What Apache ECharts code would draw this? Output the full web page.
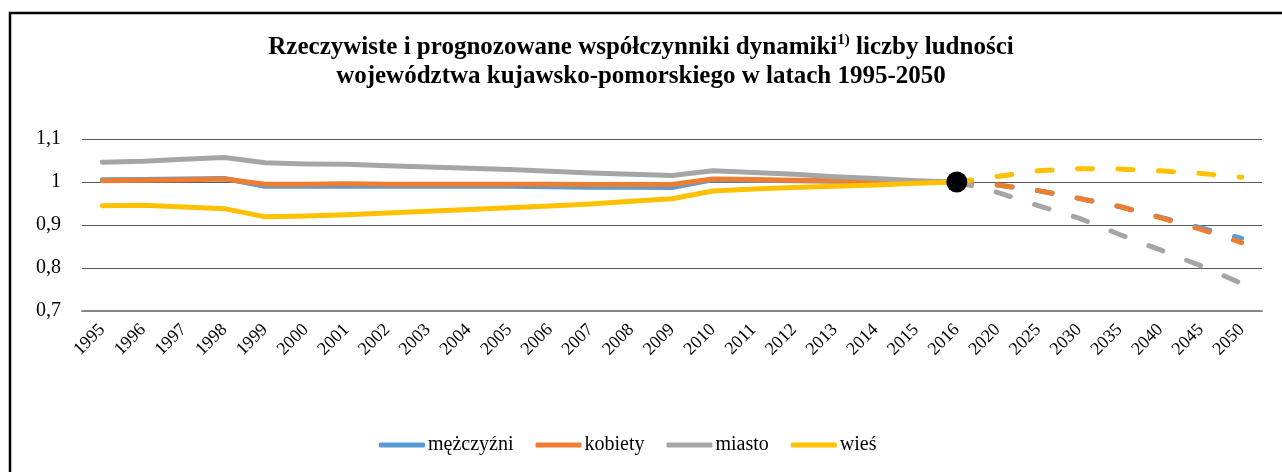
<!DOCTYPE html>
<html>
<head>
<meta charset="utf-8">
<script src="https://cdn.jsdelivr.net/npm/echarts@6/dist/echarts.min.js"></script>
<style>
  html, body { margin: 0; padding: 0; background: #fff; }
  #main { width: 1282px; height: 472px; }
</style>
</head>
<body>
<div id="main"></div>
<script>
// years with real data, then forecast years
var yearsReal = ['1995','1996','1997','1998','1999','2000','2001','2002','2003','2004','2005',
  '2006','2007','2008','2009','2010','2011','2012','2013','2014','2015','2016'];
var yearsForecast = ['2020','2025','2030','2035','2040','2045','2050'];

var names = ['mężczyźni', 'kobiety', 'miasto', 'wieś'];
var colors = ['#5B9BD5', '#ED7D31', '#A5A5A5', '#FFC000'];

// real values 1995-2016
var menReal = [1.005, 1.006, 1.007, 1.008, 0.990, 0.990, 0.990, 0.990, 0.990, 0.990, 0.990,
  0.989, 0.988, 0.988, 0.987, 1.005, 1.004, 1.003, 1.002, 1.001, 1.001, 1.000];
var womenReal = [1.003, 1.004, 1.005, 1.007, 0.995, 0.995, 0.996, 0.995, 0.995, 0.995, 0.995,
  0.995, 0.994, 0.994, 0.994, 1.007, 1.006, 1.004, 1.003, 1.002, 1.001, 1.000];
var cityReal = [1.046, 1.048, 1.053, 1.057, 1.045, 1.042, 1.041, 1.038, 1.035, 1.032, 1.029,
  1.025, 1.021, 1.018, 1.015, 1.026, 1.022, 1.018, 1.012, 1.008, 1.003, 1.000];
var villageReal = [0.945, 0.946, 0.942, 0.938, 0.919, 0.921, 0.924, 0.928, 0.932, 0.936, 0.940,
  0.944, 0.949, 0.955, 0.961, 0.979, 0.984, 0.987, 0.990, 0.993, 0.997, 1.000];

// forecast values 2020-2050
var menForecast = [0.993, 0.980, 0.962, 0.943, 0.918, 0.893, 0.869];
var womenForecast = [0.993, 0.980, 0.962, 0.943, 0.917, 0.890, 0.859];
var cityForecast = [0.976, 0.945, 0.916, 0.878, 0.842, 0.805, 0.764];
var villageForecast = [1.013, 1.026, 1.031, 1.030, 1.026, 1.020, 1.011];

var realSets = [menReal, womenReal, cityReal, villageReal];
var forecastSets = [menForecast, womenForecast, cityForecast, villageForecast];

var categories = yearsReal.concat(yearsForecast);
var serif = '"Liberation Serif", "Times New Roman", serif';

var chart = echarts.init(document.getElementById('main'));

var series = [];
// solid lines for real data
realSets.forEach(function (vals, i) {
  series.push({
    name: names[i],
    type: 'line',
    symbol: 'none',
    data: vals.concat(yearsForecast.map(function () { return null; })),
    lineStyle: { color: colors[i], width: 5, cap: 'round', join: 'round' },
    itemStyle: { color: colors[i] }
  });
});
// dashed lines for forecast, starting at 2016
forecastSets.forEach(function (vals, i) {
  var lead = yearsReal.slice(0, -1).map(function () { return null; });
  series.push({
    name: names[i],
    type: 'line',
    symbol: 'none',
    data: lead.concat([realSets[i][realSets[i].length - 1]], vals),
    lineStyle: { color: colors[i], width: 5, type: [15, 25.5], cap: 'round', join: 'round' },
    itemStyle: { color: colors[i] }
  });
});
// base year marker
series.push({
  type: 'scatter',
  symbolSize: 21,
  z: 5,
  data: [['2016', 1]],
  itemStyle: { color: '#000', opacity: 1 },
  silent: true
});

var option = {
  animation: false,
  graphic: [{
    type: 'rect',
    shape: { x: 10, y: 13, width: 1300, height: 500 },
    style: { fill: null, stroke: '#000', lineWidth: 2.5 },
    silent: true
  }],
  title: {
    text: 'Rzeczywiste i prognozowane współczynniki dynamiki{sup|1)} liczby ludności\nwojewództwa kujawsko-pomorskiego w latach 1995-2050',
    left: 'center',
    top: 28,
    textStyle: {
      fontFamily: serif,
      fontWeight: 'bold',
      fontSize: 25,
      color: '#000',
      lineHeight: 29,
      rich: {
        sup: {
          fontFamily: serif,
          fontWeight: 'bold',
          fontSize: 15,
          verticalAlign: 'top',
          lineHeight: 29,
          padding: [0, 0, 8, 0]
        }
      }
    }
  },
  legend: {
    data: names.map(function (n) { return { name: n, icon: 'roundRect' }; }),
    bottom: 12,
    left: 374,
    itemWidth: 46,
    itemHeight: 5,
    itemGap: 22,
    textStyle: { fontFamily: serif, fontSize: 20, color: '#000', padding: [0, 0, 0, -2] }
  },
  grid: { left: 82, right: 20, top: 139, bottom: 161, containLabel: false },
  xAxis: {
    type: 'category',
    data: categories,
    boundaryGap: true,
    axisLine: { lineStyle: { color: '#868686', width: 2 } },
    axisTick: { show: false },
    axisLabel: {
      rotate: 45,
      interval: 0,
      margin: 16,
      fontFamily: serif,
      fontSize: 18,
      color: '#000'
    }
  },
  yAxis: {
    type: 'value',
    min: 0.7,
    max: 1.1,
    interval: 0.1,
    axisLine: { show: false },
    axisTick: { show: false },
    splitLine: { lineStyle: { color: '#595959', width: 1 } },
    axisLabel: {
      margin: 21,
      fontFamily: serif,
      fontSize: 20,
      color: '#000',
      formatter: function (v) {
        return String(Math.round(v * 10) / 10).replace('.', ',');
      }
    }
  },
  series: series
};

chart.setOption(option);
</script>
</body>
</html>
